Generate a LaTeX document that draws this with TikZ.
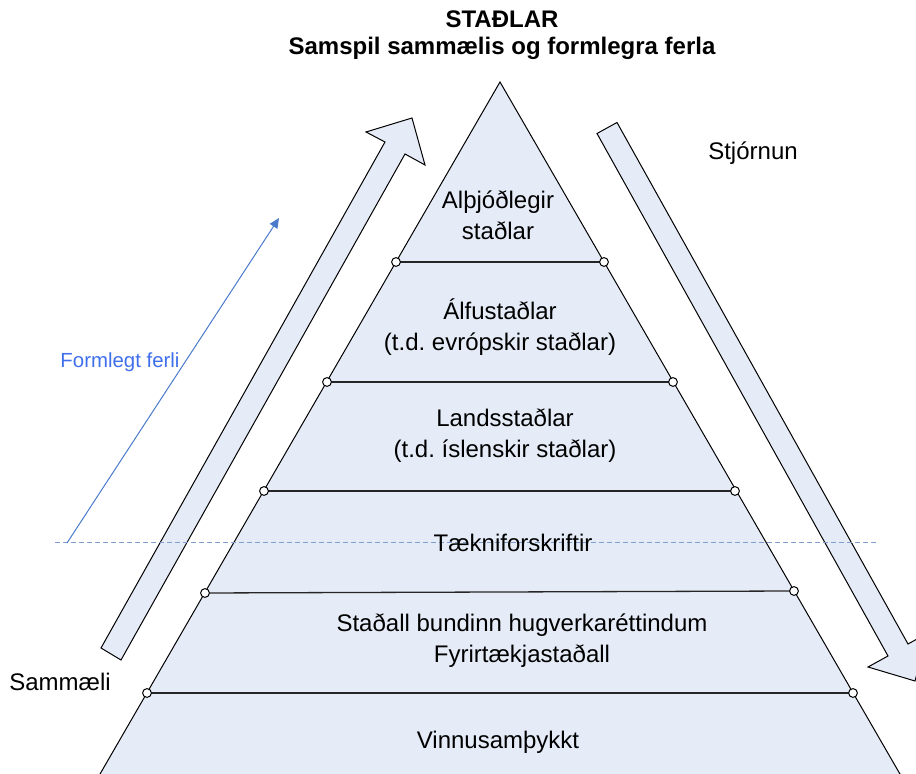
\documentclass[tikz,border=0pt]{standalone}
\usepackage{fontspec}
\setmainfont{Liberation Sans}
\usepackage{xcolor}
\usetikzlibrary{arrows.meta}
\definecolor{pyrfill}{HTML}{E6ECF7}
\definecolor{formblue}{HTML}{4A7BCB}
\definecolor{textblue}{HTML}{3F6FEA}
\definecolor{dashblue}{HTML}{7F9ECF}
\frenchspacing

\begin{document}
\begin{tikzpicture}[x=0.5pt,y=-0.5pt,
                    pyramid/.style={line width=0.5pt, black, fill=pyrfill, line join=miter},
                    levelline/.style={line width=0.65pt, black!85},
                    joint/.style={circle, draw=black, fill=white, line width=0.5pt, inner sep=0pt, minimum size=4.4pt},
                    blockarrow/.style={line width=0.5pt, black, fill=pyrfill, line join=miter},
                    formline/.style={line width=0.5pt, formblue, -{Triangle[length=5pt,width=4.5pt]}},
                    axisline/.style={line width=0.5pt, dashblue, dash pattern=on 2.5pt off 1.5pt},
                    txt/.style={font=\fontsize{12}{15.5}\selectfont, align=center, inner sep=0pt},
                   ]

\useasboundingbox (0,0) rectangle (916,774);
\clip (0,0) rectangle (916,774);

\coordinate (apex) at (500,82);
\coordinate (bl) at (96,781);
\coordinate (br) at (904,781);

\draw[pyramid] (apex) -- (bl) -- (br) -- cycle;

\coordinate (l1) at (396,262);  \coordinate (r1) at (604,262);
\coordinate (l2) at (327,382);  \coordinate (r2) at (673,382);
\coordinate (l3) at (264,491);  \coordinate (r3) at (735,491);
\coordinate (l4) at (205,593);  \coordinate (r4) at (794,591);
\coordinate (l5) at (147,693);  \coordinate (r5) at (853,693);

\draw[levelline] (l1) -- (r1);
\draw[levelline] (l2) -- (r2);
\draw[levelline] (l3) -- (r3);
\draw[levelline] (l4) -- (r4);
\draw[levelline] (l5) -- (r5);

\node[joint] at (l1) {}; \node[joint] at (r1) {};
\node[joint] at (l2) {}; \node[joint] at (r2) {};
\node[joint] at (l3) {}; \node[joint] at (r3) {};
\node[joint] at (l4) {}; \node[joint] at (r4) {};
\node[joint] at (l5) {}; \node[joint] at (r5) {};

% samm\ae li upp
\draw[blockarrow] (101,648) -- (385,142) -- (366,132) -- (412,118)
                  -- (425,165) -- (405,154) -- (121,660) -- cycle;
% stj\'ornun ni\dh ur
\draw[blockarrow] (597,133.5) -- (617,122.5) -- (908,644) -- (928,633)
                  -- (915,681) -- (868,667) -- (888,656) -- cycle;

\draw[axisline] (55,543) -- (877,543);

\coordinate (fstart) at (67,543);
\coordinate (fend) at (279,218);
\draw[formline] (fstart) -- (fend);

\node[txt, font=\bfseries\fontsize{12}{13.5}\selectfont] (title) at (502,35)
     {STAÐLAR\\Samspil sammælis og formlegra ferla};

\node[txt] (intl) at (498,215) {Alþjóðlegir\\staðlar};
\node[txt] (regional) at (500,327) {Álfustaðlar\\(t.d. evrópskir staðlar)};
\node[txt] (national) at (505,436) {Landsstaðlar\\(t.d. íslenskir staðlar)};
\node[txt] (technical) at (513,543) {Tækniforskriftir};
\node[txt] (company) at (522,641) {Staðall bundinn hugverkaréttindum\\Fyrirtækjastaðall};
\node[txt] (agreement) at (498,742) {Vinnusamþykkt};

\node[txt, font=\fontsize{10.2}{12}\selectfont, text=textblue] (formal) at (120,362) {Formlegt ferli};
\node[txt] (consensus) at (60,682) {Sammæli};
\node[txt] (governance) at (753,153) {Stjórnun};

\end{tikzpicture}
\end{document}
